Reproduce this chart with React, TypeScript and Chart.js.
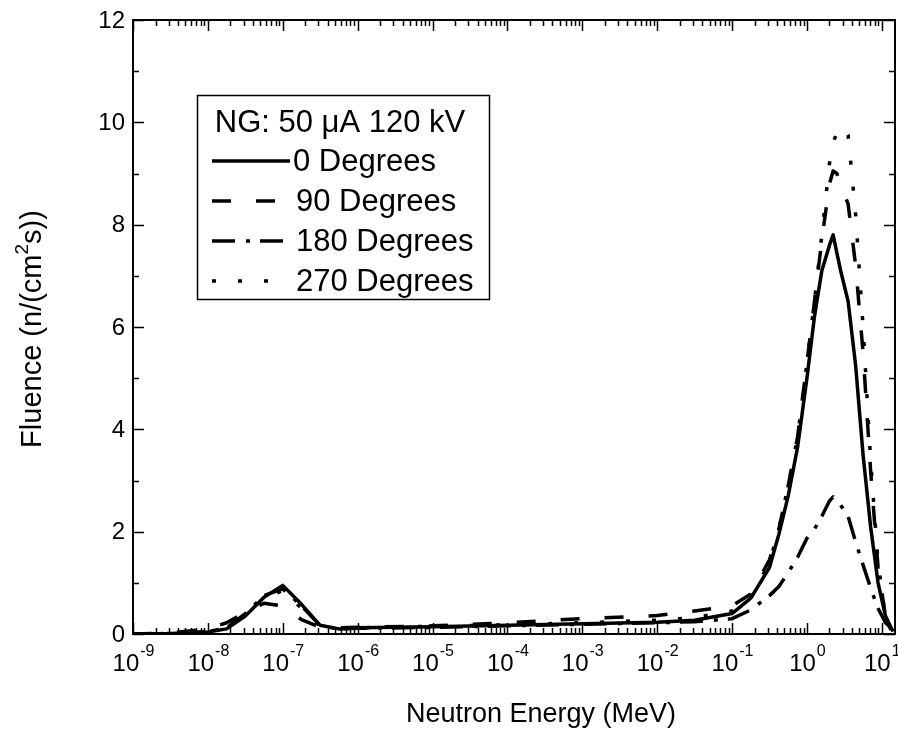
import React, { useEffect, useRef } from "react";
import { Chart, registerables } from "chart.js";

Chart.register(...registerables);

// Neutron energy grid (MeV)
const energyMeV = [
  1e-9, 3.16e-9, 1e-8, 1.78e-8, 3.16e-8, 5.62e-8, 1e-7, 1.78e-7, 3.16e-7, 5.62e-7,
  1e-6, 1e-5, 1e-4, 1e-3, 1e-2, 0.0316, 0.1, 0.178, 0.316, 0.422,
  0.562, 0.75, 1.0, 1.26, 1.58, 2.0, 2.24, 2.51, 2.82, 3.55,
  4.47, 5.62, 7.08, 8.91, 11.2, 14.1,
];

// Fluence values n/(cm^2 s)
const deg0 = [
  0, 0.01, 0.04, 0.1, 0.35, 0.72, 0.95, 0.58, 0.17, 0.1,
  0.12, 0.14, 0.17, 0.2, 0.23, 0.27, 0.4, 0.7, 1.3, 1.95,
  2.7, 3.65, 5.0, 6.2, 7.1, 7.6, 7.8, 7.45, 7.1, 6.5,
  5.25, 3.5, 2.1, 1.0, 0.35, 0.05,
];
const deg90 = [
  0, 0.02, 0.1, 0.22, 0.42, 0.6, 0.55, 0.28, 0.13, 0.12,
  0.13, 0.16, 0.22, 0.3, 0.36, 0.45, 0.55, 0.78, 1.45, 2.05,
  2.9, 3.85, 5.3, 6.5, 7.7, 8.8, 9.05, 9.0, 8.8, 8.4,
  7.2, 5.5, 3.2, 1.3, 0.35, 0.0,
];
const deg180 = [
  0, 0.01, 0.05, 0.12, 0.4, 0.75, 0.88, 0.55, 0.16, 0.1,
  0.11, 0.13, 0.16, 0.19, 0.22, 0.24, 0.3, 0.47, 0.75, 0.93,
  1.2, 1.5, 1.87, 2.05, 2.3, 2.6, 2.68, 2.62, 2.52, 2.3,
  1.8, 1.35, 0.9, 0.5, 0.22, 0.08,
];
const deg270 = [
  0, 0.01, 0.05, 0.12, 0.38, 0.7, 0.85, 0.5, 0.15, 0.1,
  0.12, 0.15, 0.18, 0.22, 0.27, 0.32, 0.45, 0.7, 1.4, 2.05,
  2.9, 3.85, 5.3, 6.5, 7.8, 9.2, 9.6, 9.8, 9.92, 9.75,
  8.2, 6.0, 3.4, 1.4, 0.3, 0.0,
];

const seriesLabels = ["0 Degrees", "90 Degrees", "180 Degrees", "270 Degrees"];
const seriesDashes = [[], [19, 25], [23, 11, 4, 10], [4, 22]];
const legendTitle = "NG: 50 \u03BCA 120 kV";

const xDecades = [-9, -8, -7, -6, -5, -4, -3, -2, -1, 0, 1];
const yTicks = [0, 2, 4, 6, 8, 10, 12];
const xTitle = "Neutron Energy (MeV)";

const FONT = '"Liberation Sans", Arial, Helvetica, sans-serif';

const decorPlugin = {
  id: "decor",
  afterDatasetsDraw(chart: any) {
    const { ctx, chartArea: a, scales } = chart;
    const x = scales.x;
    const y = scales.y;
    ctx.save();
    ctx.fillStyle = "#000";
    ctx.strokeStyle = "#000";

    // frame
    ctx.lineWidth = 2;
    ctx.strokeRect(a.left, a.top, a.right - a.left, a.bottom - a.top);

    // x ticks (bottom and top, inward)
    ctx.lineWidth = 1.5;
    for (const d of xDecades.concat([2])) {
      for (let m = 1; m <= 9; m++) {
        const v = m * Math.pow(10, d);
        if (v < x.min * 0.999 || v > x.max) continue;
        const px = Math.round(x.getPixelForValue(v)) + 0.5;
        const len = m === 1 ? 11 : 6;
        ctx.beginPath();
        ctx.moveTo(px, a.bottom);
        ctx.lineTo(px, a.bottom - len);
        ctx.moveTo(px, a.top);
        ctx.lineTo(px, a.top + len);
        ctx.stroke();
      }
    }
    // y ticks (left and right, inward)
    for (let v = 0; v <= 12; v++) {
      const py = Math.round(y.getPixelForValue(v)) + 0.5;
      const len = v % 2 === 0 ? 11 : 6;
      ctx.beginPath();
      ctx.moveTo(a.left, py);
      ctx.lineTo(a.left + len, py);
      ctx.moveTo(a.right, py);
      ctx.lineTo(a.right - len, py);
      ctx.stroke();
    }

    // y tick labels
    ctx.font = `24px ${FONT}`;
    ctx.textAlign = "right";
    ctx.textBaseline = "middle";
    for (const v of yTicks) {
      ctx.fillText(String(v), a.left - 8, y.getPixelForValue(v) + 1);
    }

    // x tick labels with superscripts
    ctx.textBaseline = "alphabetic";
    ctx.textAlign = "left";
    for (const d of xDecades) {
      const px = x.getPixelForValue(Math.pow(10, d));
      ctx.font = `24px ${FONT}`;
      const wBase = ctx.measureText("10").width;
      ctx.font = `16px ${FONT}`;
      const exp = String(d);
      const wExp = ctx.measureText(exp).width;
      const start = px - (wBase + wExp) / 2;
      ctx.font = `24px ${FONT}`;
      ctx.fillText("10", start, a.bottom + 37);
      ctx.font = `16px ${FONT}`;
      ctx.fillText(exp, start + wBase + 1, a.bottom + 22);
    }

    // x title
    ctx.font = `27px ${FONT}`;
    ctx.textAlign = "center";
    ctx.fillText(xTitle, 541, 722);

    // y title with superscript
    ctx.save();
    ctx.translate(41, 329);
    ctx.rotate(-Math.PI / 2);
    const p1 = "Fluence (n/(cm";
    const p2 = "2";
    const p3 = "s))";
    ctx.font = `29px ${FONT}`;
    const w1 = ctx.measureText(p1).width;
    const w3 = ctx.measureText(p3).width;
    ctx.font = `19px ${FONT}`;
    const w2 = ctx.measureText(p2).width;
    const total = w1 + w2 + w3;
    let sx = -total / 2;
    ctx.textAlign = "left";
    ctx.font = `29px ${FONT}`;
    ctx.fillText(p1, sx, 0);
    sx += w1;
    ctx.font = `19px ${FONT}`;
    ctx.fillText(p2, sx, -13);
    sx += w2;
    ctx.font = `29px ${FONT}`;
    ctx.fillText(p3, sx, 0);
    ctx.restore();

    // legend box
    const bx = 197, by = 95, bw = 292, bh = 204;
    ctx.lineWidth = 1.5;
    ctx.strokeRect(bx + 0.5, by + 0.5, bw, bh);
    ctx.font = `31px ${FONT}`;
    ctx.textAlign = "center";
    ctx.textBaseline = "middle";
    ctx.fillText(legendTitle, bx + bw / 2 - 3, 123);
    const rows = [161, 201, 241, 281];
    const sampleEnd = [290, 278, 290, 278];
    chart.data.datasets.forEach((ds: any, i: number) => {
      const ry = rows[i];
      ctx.save();
      ctx.lineWidth = 3.5;
      ctx.setLineDash(ds.borderDash || []);
      ctx.beginPath();
      ctx.moveTo(212, ry);
      ctx.lineTo(sampleEnd[i], ry);
      ctx.stroke();
      ctx.restore();
      ctx.textAlign = "left";
      ctx.fillText(ds.label, i === 0 ? 293 : 296, ry + 1);
    });

    ctx.restore();
  },
};

export default function App() {
  const ref = useRef<HTMLCanvasElement>(null);

  useEffect(() => {
    document.body.style.margin = "0";
    const canvas = ref.current;
    if (!canvas) return;
    const values = [deg0, deg90, deg180, deg270];
    const chart = new Chart(canvas, {
      type: "line",
      data: {
        datasets: values.map((vals, i) => ({
          label: seriesLabels[i],
          data: energyMeV.map((e, j) => ({ x: e, y: vals[j] })),
          borderColor: "#000",
          backgroundColor: "#000",
          borderWidth: 3.5,
          borderDash: seriesDashes[i],
          borderJoinStyle: "round",
          pointRadius: 0,
          tension: 0,
          fill: false,
        })),
      },
      options: {
        animation: false,
        responsive: false,
        devicePixelRatio: 1,
        layout: { padding: { left: 133, right: 3, top: 20, bottom: 99 } },
        plugins: { legend: { display: false }, tooltip: { enabled: false } },
        scales: {
          x: { type: "logarithmic", min: 1e-9, max: 15, display: false },
          y: { type: "linear", min: 0, max: 12, display: false },
        },
      },
      plugins: [decorPlugin],
    } as any);
    return () => chart.destroy();
  }, []);

  return (
    <canvas
      ref={ref}
      width={898}
      height={733}
      style={{ display: "block", width: 898, height: 733, background: "#fff" }}
    />
  );
}
